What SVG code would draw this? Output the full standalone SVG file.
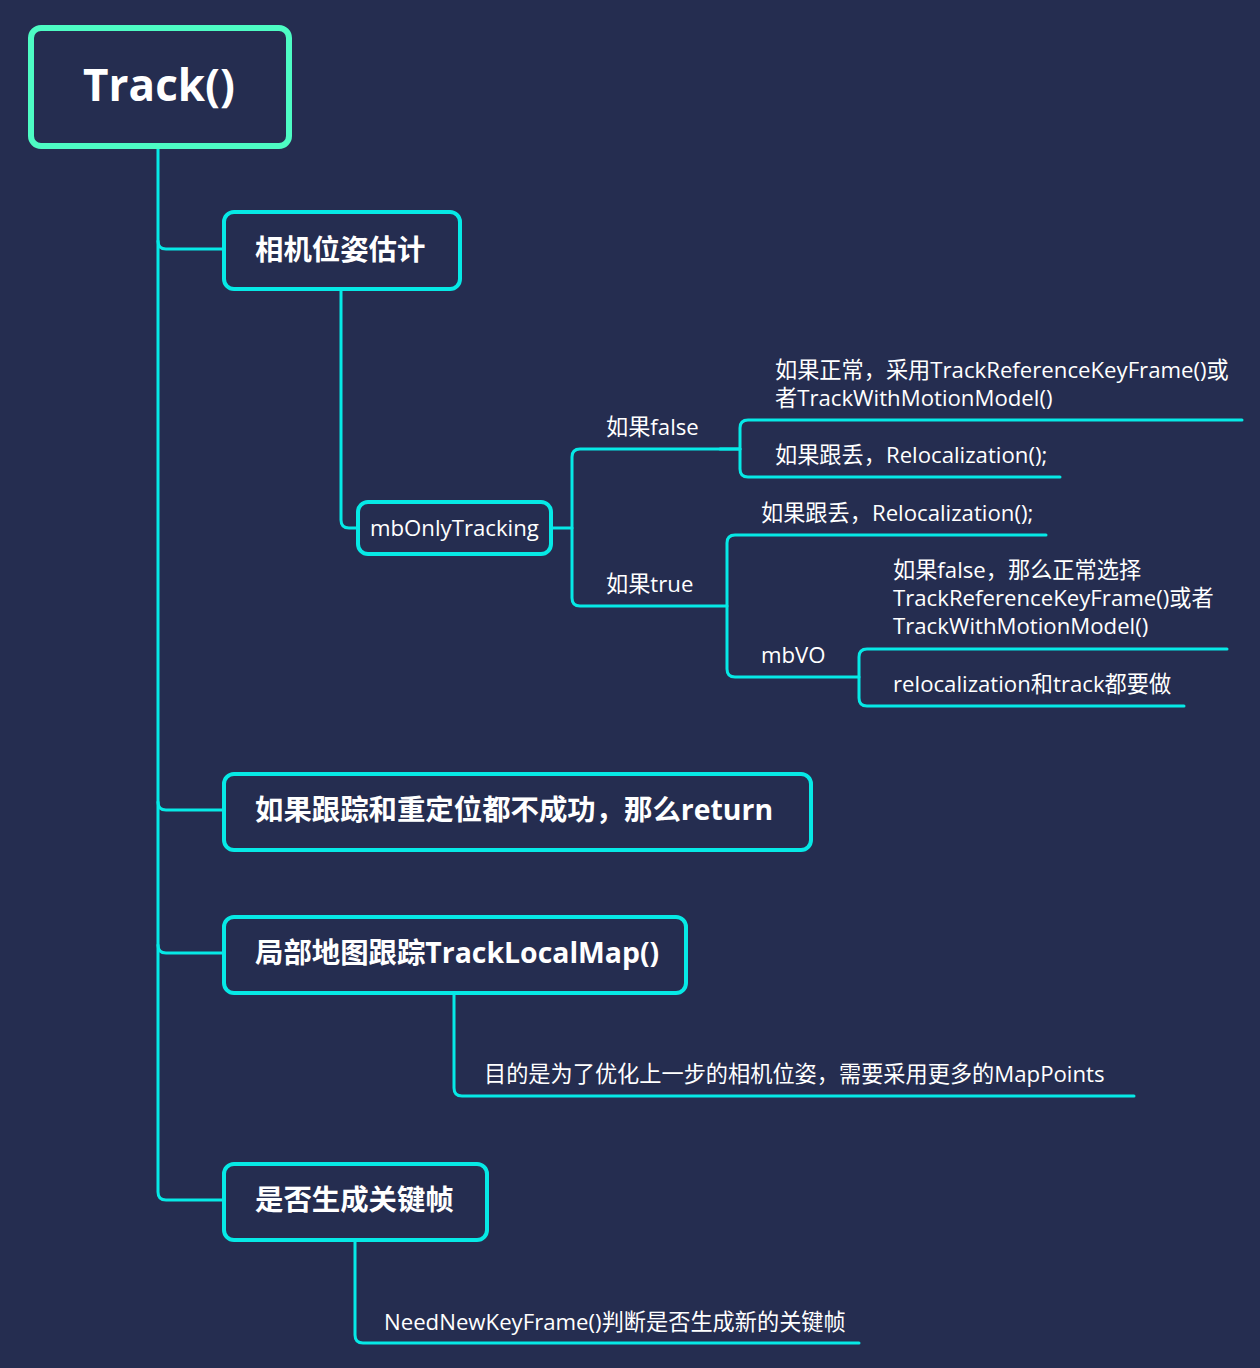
<svg xmlns="http://www.w3.org/2000/svg" width="1260" height="1368" viewBox="0 0 1260 1368">
<style>
.bg{fill:#252d50}
.root{fill:#252d50;stroke:#4dfcc4;stroke-width:6}
.box{fill:#252d50;stroke:#06e9e6;stroke-width:4}
.ln{fill:none;stroke:#06e9e6;stroke-width:3;stroke-linecap:round;stroke-linejoin:round}
.t{font-family:"Open Sans","Noto Sans CJK SC",sans-serif;fill:#ffffff}
.big{font-size:44px;font-weight:bold}
.h{font-size:28.4px;font-weight:bold}
.s{font-size:22.2px}
</style>
<rect class="bg" x="0" y="0" width="1260" height="1368"/>
<g id="connectors">
<path class="ln" d="M158,148 V1192 Q158,1200 166,1200 H223"/>
<path class="ln" d="M158,241 Q158,249 166,249 H223"/>
<path class="ln" d="M158,802 Q158,810 166,810 H223"/>
<path class="ln" d="M158,945 Q158,953 166,953 H223"/>
<path class="ln" d="M341,290 V520 Q341,528 349,528 H358"/>
<path class="ln" d="M551,528 H572"/>
<path class="ln" d="M740,449 H580 Q572,449 572,457 V598 Q572,606 580,606 H727"/>
<path class="ln" d="M1242,420 H748 Q740,420 740,428 V469 Q740,477 748,477 H1060"/>
<path class="ln" d="M740,449 H720"/>
<path class="ln" d="M1046,535 H735 Q727,535 727,543 V669 Q727,677 735,677 H859"/>
<path class="ln" d="M1227,649 H867 Q859,649 859,657 V698 Q859,706 867,706 H1184"/>
<path class="ln" d="M454,995 V1088 Q454,1096 462,1096 H1134"/>
<path class="ln" d="M355,1242 V1335 Q355,1343 363,1343 H859"/>
</g>
<g id="root">
<rect class="root" x="31" y="28" width="258" height="118" rx="10"/>
<text class="t big" x="159" y="101" text-anchor="middle">Track()</text>
</g>
<g id="pose">
<rect class="box" x="224" y="212" width="236" height="77" rx="10"/>
<text class="t h" x="255" y="260">相机位姿估计</text>
</g>
<g id="mbOnlyTracking">
<rect class="box" x="358" y="502" width="193" height="52" rx="10"/>
<text class="t s" x="370" y="536">mbOnlyTracking</text>
</g>
<g id="lbl-false"><text class="t s" x="606" y="435">如果false</text></g>
<g id="lbl-true"><text class="t s" x="606" y="592">如果true</text></g>
<g id="false-normal">
<text class="t s" x="775" y="378">如果正常，采用TrackReferenceKeyFrame()或</text>
<text class="t s" x="775" y="406">者TrackWithMotionModel()</text>
</g>
<g id="false-lost"><text class="t s" x="775" y="463">如果跟丢，Relocalization();</text></g>
<g id="true-lost"><text class="t s" x="761" y="521">如果跟丢，Relocalization();</text></g>
<g id="mbVO"><text class="t s" x="761" y="663">mbVO</text></g>
<g id="vo-false">
<text class="t s" x="893" y="578">如果false，那么正常选择</text>
<text class="t s" x="893" y="606">TrackReferenceKeyFrame()或者</text>
<text class="t s" x="893" y="634">TrackWithMotionModel()</text>
</g>
<g id="vo-true"><text class="t s" x="893" y="692">relocalization和track都要做</text></g>
<g id="fail">
<rect class="box" x="224" y="774" width="587" height="76" rx="10"/>
<text class="t h" x="255" y="820">如果跟踪和重定位都不成功，那么return</text>
</g>
<g id="localmap">
<rect class="box" x="224" y="917" width="462" height="76" rx="10"/>
<text class="t h" x="255" y="963">局部地图跟踪TrackLocalMap()</text>
</g>
<g id="localmap-note"><text class="t s" x="484" y="1082">目的是为了优化上一步的相机位姿，需要采用更多的MapPoints</text></g>
<g id="keyframe">
<rect class="box" x="224" y="1164" width="263" height="76" rx="10"/>
<text class="t h" x="255" y="1210">是否生成关键帧</text>
</g>
<g id="keyframe-note"><text class="t s" x="384" y="1330">NeedNewKeyFrame()判断是否生成新的关键帧</text></g>
</svg>
